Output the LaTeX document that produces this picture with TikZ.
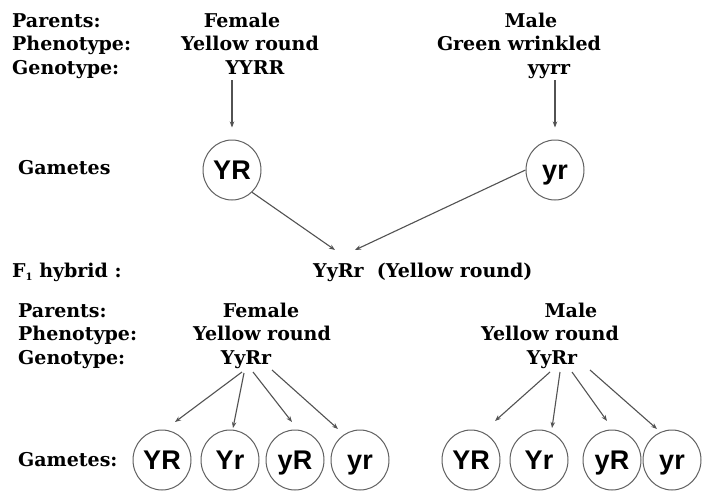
\documentclass[tikz,border=0pt]{standalone}
\usepackage{fontspec}
\setmainfont{DejaVu Serif}
\newfontfamily\gamfont{Liberation Sans}
\usetikzlibrary{shapes.geometric,arrows.meta,calc}

\begin{document}
\begin{tikzpicture}[x=1pt,y=-1pt,
  lbl/.style={anchor=base west,inner sep=0pt,text=black,
    font={\fontsize{19}{21}\selectfont\bfseries}},
  txt/.style={anchor=base,inner sep=0pt,text=black,
    font={\fontsize{19}{21}\selectfont\bfseries}},
  gam/.style={ellipse,draw=black!62,line width=1pt,minimum width=58pt,
    minimum height=60pt,inner sep=0pt,text=black,
    text height=19.5pt,text depth=0pt,
    font={\gamfont\fontsize{27}{27}\selectfont\bfseries}},
  arr/.style={draw=black!68,line width=1.1pt,
    -{Stealth[length=6pt,width=4.5pt]}}
]
\useasboundingbox[fill=white] (0,0) rectangle (702,493);

% ---- first cross: parents ----
\node[lbl] (p1)  at (12,27) {Parents:};
\node[lbl] (ph1) at (12,50) {Phenotype:};
\node[lbl] (g1)  at (12,74) {Genotype:};

\node[txt] (fem1) at (242,27) {Female};
\node[txt] (fph1) at (250,50) {Yellow round};
\node[txt] (fg1)  at (255,74) {YYRR};

\node[txt] (mal1) at (531,27) {Male};
\node[txt] (mph1) at (519,50) {Green wrinkled};
\node[txt] (mg1)  at (549,74) {yyrr};

% ---- gametes of the first cross ----
\node[lbl] (gm1) at (18,174) {Gametes};
\node[gam] (cYR) at (232,170) {YR};
\node[gam] (cyr) at (555,170) {yr};

\draw[arr] ($(cYR |- fg1.base)+(0,6)$) -- ([yshift=12pt]cYR.north);
\draw[arr] ($(cyr |- mg1.base)+(0,6)$) -- ([yshift=12pt]cyr.north);

% ---- F1 ----
\node[lbl] (f1)  at (12,277) {F\raisebox{-3pt}{\fontsize{10}{10}\selectfont 1} hybrid :};
\node[lbl] (f1g) at (313,277) {YyRr\ \ (Yellow round)};

\coordinate (t1) at (335,250);
\coordinate (t2) at (355,250);
\draw[arr] (cYR.-48) -- (t1);
\draw[arr] (cyr.west) -- (t2);

% ---- second cross: parents ----
\node[lbl] (p2)  at (18,317) {Parents:};
\node[lbl] (ph2) at (18,340) {Phenotype:};
\node[lbl] (g2)  at (18,364) {Genotype:};

\node[txt] (fem2) at (261,317) {Female};
\node[txt] (fph2) at (262,340) {Yellow round};
\node[txt] (fg2)  at (246,364) {YyRr};

\node[txt] (mal2) at (571,317) {Male};
\node[txt] (mph2) at (550,340) {Yellow round};
\node[txt] (mg2)  at (552,364) {YyRr};

% ---- gametes of the second cross ----
\node[lbl] (gm2) at (18,466) {Gametes:};
\node[gam] (a1) at (162,460) {YR};
\node[gam] (a2) at (230,460) {Yr};
\node[gam] (a3) at (295,460) {yR};
\node[gam] (a4) at (360,460) {yr};
\node[gam] (b1) at (471,460) {YR};
\node[gam] (b2) at (539,460) {Yr};
\node[gam] (b3) at (612,460) {yR};
\node[gam] (b4) at (672,460) {yr};

% arrow tips above the gamete circles
\coordinate (ea1) at (175,422);
\coordinate (ea2) at (233,428);
\coordinate (ea3) at (292,422);
\coordinate (ea4) at (338,429);
\coordinate (eb1) at (495,421);
\coordinate (eb2) at (552,428);
\coordinate (eb3) at (607,421);
\coordinate (eb4) at (657,429);

\draw[arr] ($(fg2.base)+(-4,8)$)  -- (ea1);
\draw[arr] ($(fg2.base)+(-2,9)$)  -- (ea2);
\draw[arr] ($(fg2.base)+(7,8)$)   -- (ea3);
\draw[arr] ($(fg2.base)+(26,6)$)  -- (ea4);
\draw[arr] ($(mg2.base)+(-2,8)$)  -- (eb1);
\draw[arr] ($(mg2.base)+(8,8)$)   -- (eb2);
\draw[arr] ($(mg2.base)+(20,8)$)  -- (eb3);
\draw[arr] ($(mg2.base)+(38,6)$)  -- (eb4);
\end{tikzpicture}
\end{document}
